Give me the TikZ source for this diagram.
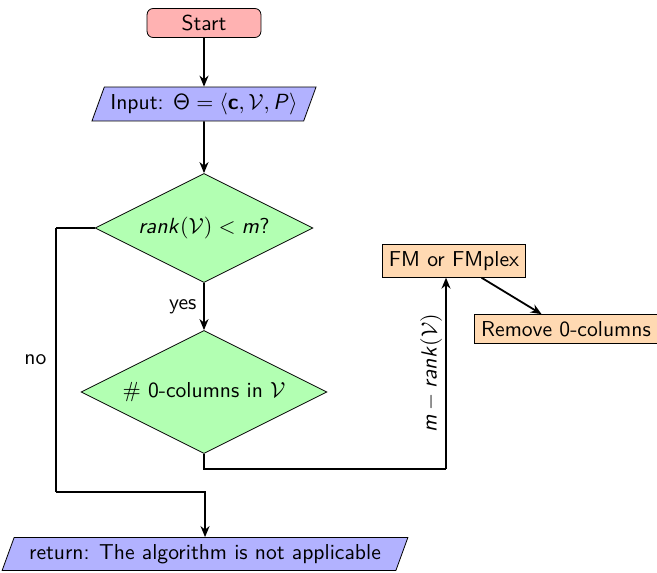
\documentclass[tikz,border=0pt]{standalone}
\usetikzlibrary{shapes.geometric,arrows.meta}
% sans serif alphabets for the formulas
\DeclareMathAlphabet{\mathsfup}{OT1}{cmss}{m}{n}
\DeclareMathAlphabet{\mathsfit}{OT1}{cmss}{m}{sl}
\DeclareMathAlphabet{\mathsfbf}{OT1}{cmss}{bx}{n}
\tikzset{
  every node/.style={font=\sffamily\fontsize{10.8pt}{13pt}\selectfont},
  startstop/.style={rectangle, rounded corners=3pt, draw, fill=red!30,
    minimum width=2cm, minimum height=14.5pt, inner sep=2pt},
  io/.style={trapezium, trapezium left angle=70, trapezium right angle=110,
    draw, fill=blue!30, minimum height=16.5pt, inner sep=3pt},
  decision/.style={diamond, aspect=2, draw, fill=green!30, inner sep=1pt},
  process/.style={rectangle, draw, fill=orange!30},
  conn/.style={line width=0.9pt},
  arrow/.style={line width=0.9pt, -{Stealth[length=5.5pt, width=4.5pt]}}
}
\begin{document}
\begin{tikzpicture}[x=0.5pt, y=-0.5pt]
  \useasboundingbox (0,0) rectangle (657,572);

  % flowchart nodes
  \node[startstop] (start) at (204,23) {Start};
  \node[io] (in) at (204,104)
    {Input: $\mathsfup{\Theta} = \langle \mathsfbf{c}, \mathcal{V}, \mathsfit{P}\rangle$};
  \node[decision, minimum width=109pt, minimum height=54.5pt] (d1) at (204,228)
    {$\mathsfit{rank}\mathsfup{(}\mathcal{V}\mathsfup{)} < \mathsfit{m}$?};
  \node[decision, minimum width=123pt, minimum height=61.5pt] (d2) at (204,392)
    {$\#$ 0-columns in $\mathcal{V}$};
  \node[io] (ret) at (205,554) {return: The algorithm is not applicable};
  \node[process] (fm) at (454,261) {FM or FMplex};
  \node[process] (rm) at (566,329) {Remove 0-columns};

  % bend points of the routed connectors
  \coordinate (nl) at (56,228);
  \coordinate (nb) at (56,492);
  \coordinate (yb) at (446,469);

  % connectors
  \draw[arrow] (start) -- (in);
  \draw[arrow] (in) -- (d1);
  \draw[arrow] (d1) -- node[midway, left] {yes} (d2);
  \draw[conn] (d1.west) -- (nl);
  \draw[conn] (nl) -- node[midway, left=1pt] {no} (nb);
  \draw[arrow] (nb) -| (ret.north);
  \draw[conn] (d2.south) |- (yb);
  \draw[arrow] (yb) -- node[midway, above, rotate=90, inner sep=1.5pt]
    {$\mathsfit{m} - \mathsfit{rank}\mathsfup{(}\mathcal{V}\mathsfup{)}$} (yb |- fm.south);
  \draw[arrow] (fm) -- (rm);
\end{tikzpicture}
\end{document}
